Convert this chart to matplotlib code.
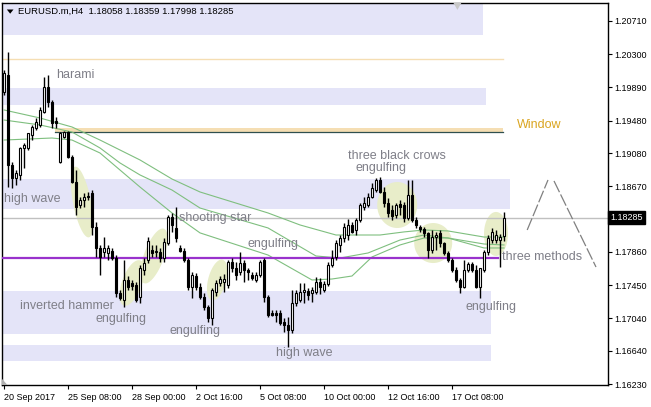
import numpy as np
import matplotlib.pyplot as plt
from matplotlib.patches import Polygon, Rectangle
from matplotlib.lines import Line2D
from matplotlib.transforms import blended_transform_factory

plt.rcParams['font.family'] = ['Liberation Sans', 'DejaVu Sans']

# H4 candles, bar index 0..125
opens = [1.19834, 1.20044, 1.18933, 1.18773, 1.18810, 1.19143, 1.19143, 1.19303, 1.19390, 1.19427,
         1.19587, 1.19895, 1.19710, 1.19476, 1.18970, 1.19278, 1.19340, 1.19032, 1.18723, 1.18439,
         1.18501, 1.18538, 1.18587, 1.18168, 1.17909, 1.17859, 1.17847, 1.17872, 1.17785, 1.17353,
         1.17267, 1.17514, 1.17477, 1.17452, 1.17304, 1.17637, 1.17761, 1.17884, 1.17859, 1.17859,
         1.17785, 1.17970, 1.18291, 1.18156, 1.17909, 1.17872, 1.17761, 1.17427, 1.17563, 1.17427,
         1.17304, 1.17181, 1.17045, 1.17366, 1.17477, 1.17489, 1.17452, 1.17736, 1.17662, 1.17612,
         1.17724, 1.17637, 1.17575, 1.17514, 1.17575, 1.17761, 1.17304, 1.17107, 1.17107, 1.17107,
         1.16996, 1.16959, 1.16897, 1.17230, 1.17267, 1.17366, 1.17378, 1.17353, 1.17366, 1.17489,
         1.17390, 1.17464, 1.17699, 1.17798, 1.17946, 1.18032, 1.18069, 1.18193, 1.18131, 1.18255,
         1.18415, 1.18439, 1.18538, 1.18624, 1.18748, 1.18600, 1.18464, 1.18378, 1.18316, 1.18452,
         1.18439, 1.18279, 1.18563, 1.18255, 1.18168, 1.18144, 1.18095, 1.17884, 1.18044, 1.18095,
         1.17970, 1.17847, 1.17761, 1.17637, 1.17514, 1.17427, 1.17637, 1.17712, 1.17637, 1.17427,
         1.17637, 1.17859, 1.18007, 1.18007, 1.18007, 1.18058]
highs = [1.20105, 1.20327, 1.18970, 1.18871, 1.19155, 1.19204, 1.19328, 1.19427, 1.19513, 1.19649,
         1.20019, 1.20044, 1.19735, 1.19525, 1.19340, 1.19353, 1.19353, 1.19056, 1.18871, 1.18538,
         1.18587, 1.18600, 1.18624, 1.18230, 1.17946, 1.18044, 1.17946, 1.17909, 1.17822, 1.17390,
         1.17761, 1.17563, 1.17514, 1.17489, 1.17699, 1.17785, 1.18044, 1.17946, 1.17946, 1.17909,
         1.18032, 1.18316, 1.18341, 1.18415, 1.17946, 1.17909, 1.17785, 1.17612, 1.17600, 1.17477,
         1.17353, 1.17205, 1.17415, 1.17514, 1.17563, 1.17588, 1.17761, 1.17785, 1.17736, 1.17859,
         1.17761, 1.17662, 1.17612, 1.17612, 1.17761, 1.17785, 1.17329, 1.17144, 1.17144, 1.17144,
         1.17045, 1.17057, 1.17390, 1.17390, 1.17477, 1.17477, 1.17415, 1.17427, 1.17551, 1.17539,
         1.17501, 1.17736, 1.17884, 1.18007, 1.18069, 1.18218, 1.18267, 1.18230, 1.18279, 1.18464,
         1.18538, 1.18587, 1.18711, 1.18773, 1.18785, 1.18661, 1.18526, 1.18439, 1.18464, 1.18501,
         1.18476, 1.18748, 1.18748, 1.18291, 1.18193, 1.18168, 1.18107, 1.18131, 1.18107, 1.18131,
         1.17983, 1.17872, 1.17785, 1.17674, 1.17539, 1.17761, 1.17736, 1.17736, 1.17699, 1.17662,
         1.17884, 1.18069, 1.18156, 1.18131, 1.18082, 1.18359]
lows = [1.19797, 1.18661, 1.18649, 1.18686, 1.18748, 1.18896, 1.19118, 1.19241, 1.19365, 1.19402,
        1.19575, 1.19649, 1.19390, 1.19390, 1.18958, 1.19266, 1.19019, 1.18711, 1.18316, 1.18402,
        1.18415, 1.18501, 1.18069, 1.17798, 1.17575, 1.17798, 1.17761, 1.17761, 1.17304, 1.17267,
        1.17181, 1.17390, 1.17390, 1.17242, 1.17230, 1.17575, 1.17724, 1.17798, 1.17798, 1.17736,
        1.17736, 1.17946, 1.18107, 1.17983, 1.17859, 1.17736, 1.17390, 1.17292, 1.17390, 1.17279,
        1.17144, 1.16996, 1.16959, 1.17316, 1.17440, 1.17366, 1.17415, 1.17612, 1.17514, 1.17575,
        1.17489, 1.17514, 1.17514, 1.17489, 1.17551, 1.17242, 1.17057, 1.17070, 1.16996, 1.16959,
        1.16872, 1.16687, 1.16860, 1.17193, 1.17242, 1.17230, 1.17267, 1.17242, 1.17341, 1.17341,
        1.17366, 1.17440, 1.17674, 1.17761, 1.17859, 1.17983, 1.18007, 1.18095, 1.18069, 1.18230,
        1.18378, 1.18415, 1.18526, 1.18600, 1.18587, 1.18415, 1.18291, 1.18255, 1.18279, 1.18316,
        1.18230, 1.18255, 1.18230, 1.18156, 1.18107, 1.18044, 1.17785, 1.17847, 1.17884, 1.17921,
        1.17822, 1.17736, 1.17612, 1.17489, 1.17353, 1.17415, 1.17612, 1.17612, 1.17415, 1.17292,
        1.17612, 1.17822, 1.17970, 1.17970, 1.17674, 1.17998]
closes = [1.20068, 1.18933, 1.18773, 1.18834, 1.19143, 1.19180, 1.19328, 1.19402, 1.19464, 1.19612,
          1.19895, 1.19710, 1.19451, 1.19451, 1.19328, 1.19340, 1.19032, 1.18723, 1.18415, 1.18501,
          1.18538, 1.18550, 1.18168, 1.17909, 1.17798, 1.17909, 1.17909, 1.17785, 1.17353, 1.17292,
          1.17514, 1.17427, 1.17440, 1.17267, 1.17662, 1.17724, 1.17995, 1.17847, 1.17872, 1.17785,
          1.17983, 1.18291, 1.18193, 1.18032, 1.17872, 1.17761, 1.17427, 1.17575, 1.17427, 1.17304,
          1.17181, 1.17045, 1.17390, 1.17477, 1.17526, 1.17526, 1.17736, 1.17662, 1.17575, 1.17724,
          1.17637, 1.17612, 1.17539, 1.17575, 1.17736, 1.17304, 1.17082, 1.17082, 1.17082, 1.16983,
          1.16959, 1.16897, 1.17230, 1.17353, 1.17366, 1.17390, 1.17329, 1.17390, 1.17489, 1.17427,
          1.17464, 1.17699, 1.17785, 1.17970, 1.18032, 1.18168, 1.18193, 1.18107, 1.18255, 1.18439,
          1.18464, 1.18538, 1.18649, 1.18748, 1.18600, 1.18464, 1.18341, 1.18304, 1.18439, 1.18415,
          1.18279, 1.18563, 1.18255, 1.18193, 1.18144, 1.18095, 1.17884, 1.18044, 1.18069, 1.17970,
          1.17847, 1.17761, 1.17637, 1.17514, 1.17427, 1.17637, 1.17712, 1.17637, 1.17427, 1.17662,
          1.17859, 1.18032, 1.18107, 1.18069, 1.18044, 1.18285]

# moving averages (bar index, price)
ma_slow_x = [0, 9, 17, 24, 34, 42, 49, 66, 74, 83, 94, 100, 105, 111, 120, 125]
ma_slow_y = [1.19612, 1.19513, 1.19402, 1.19241, 1.18995, 1.18760, 1.18600, 1.18341, 1.18193,
             1.18069, 1.18069, 1.18107, 1.18131, 1.18119, 1.18044, 1.18044]
ma_mid_x = [0, 9, 17, 24, 29, 34, 42, 49, 66, 78, 84, 91, 99, 105, 111, 120, 125]
ma_mid_y = [1.19488, 1.19427, 1.19340, 1.19143, 1.18958, 1.18810, 1.18624, 1.18402, 1.18156,
            1.17810, 1.17785, 1.17847, 1.18007, 1.18069, 1.18032, 1.17958, 1.17946]
ma_fast_x = [0, 12, 17, 24, 34, 42, 49, 66, 77, 82, 87, 92, 99, 105, 111, 120, 125]
ma_fast_y = [1.19241, 1.19266, 1.19241, 1.19081, 1.18661, 1.18341, 1.18095, 1.17822, 1.17514,
             1.17526, 1.17563, 1.17798, 1.17946, 1.18032, 1.18032, 1.17909, 1.17909]

# zones (x from, x to, price low, price high)
zones_x0 = [-0.5, -0.5, -0.5, -0.5, -0.5]
zones_x1 = [119.8, 120.5, 126.5, 121.7, 121.7]
zones_lo = [1.20537, 1.19673, 1.18390, 1.16847, 1.16514]
zones_hi = [1.20940, 1.19883, 1.18760, 1.17378, 1.16712]

window_lo, window_hi = 1.19340, 1.19389
level_top = 1.20241
level_purple = 1.17785
last_price = 1.18285

# pattern highlights: centre (bar, price), size in px, tilt
spot_x = [19.5, 37.5, 32.0, 53.3, 98.3, 107.3, 123.0]
spot_y = [1.18476, 1.17810, 1.17477, 1.17514, 1.18439, 1.17970, 1.18082]
spot_w = [18, 20, 20, 18, 40, 38, 24]
spot_h = [72, 58, 48, 42, 46, 40, 44]
spot_a = [11, -20, -20, -15, 0, 0, 0]

labels = ['harami', 'high wave', 'shooting star', 'engulfing', 'inverted hammer', 'engulfing',
          'engulfing', 'high wave', 'three black crows', 'engulfing', 'three methods', 'engulfing']
label_x = [13.0, 0.0, 43.8, 60.8, 4.0, 22.8, 41.5, 68.0, 86.0, 87.8, 124.5, 115.5]
label_y = [1.20044, 1.18513, 1.18279, 1.17958, 1.17193, 1.17033, 1.16884, 1.16612, 1.19044,
           1.18896, 1.17798, 1.17181]

# projected path
proj1_x, proj1_y = [130.8, 136.0], [1.18131, 1.18748]
proj2_x, proj2_y = [137.5, 148.0], [1.18736, 1.17674]

yticks = [1.20710, 1.20300, 1.19890, 1.19480, 1.19080, 1.18670, 1.17860, 1.17450, 1.17040,
          1.16640, 1.16230]
xtick_pos = [0, 16, 32, 48, 64, 80, 96, 112]
xtick_lab = ['20 Sep 2017', '25 Sep 08:00', '28 Sep 00:00', '2 Oct 16:00', '5 Oct 08:00',
             '10 Oct 00:00', '12 Oct 16:00', '17 Oct 08:00']

fig = plt.figure(figsize=(6.51, 4.07), dpi=100)
ax = fig.add_axes([2 / 651, 22 / 407, 606 / 651, 382 / 407])
ax.set_xlim(-0.5, 151)
ax.set_ylim(1.16218, 1.20932)

for x0, x1, lo, hi in zip(zones_x0, zones_x1, zones_lo, zones_hi):
    ax.add_patch(Rectangle((x0, lo), x1 - x0, hi - lo, fc='#e4e4f8', ec='none', zorder=1))

ax.add_patch(Rectangle((12.8, window_lo), 112, window_hi - window_lo, fc='#f5deb3', ec='none', zorder=1))
ax.plot([12.8, 124.8], [window_lo, window_lo], color='#2f4f4f', lw=0.9, zorder=1.5)
ax.plot([-0.5, 124.8], [level_top, level_top], color='#f5deb3', lw=1, zorder=1.5)

# highlight ellipses built in pixel space
fig.canvas.draw()
t = np.linspace(0, 2 * np.pi, 80)
for cx, cy, w, h, a in zip(spot_x, spot_y, spot_w, spot_h, spot_a):
    c = ax.transData.transform((cx, cy))
    r = np.deg2rad(a)
    ex = w / 2 * np.cos(t)
    ey = h / 2 * np.sin(t)
    px = c[0] + ex * np.cos(r) - ey * np.sin(r)
    py = c[1] + ex * np.sin(r) + ey * np.cos(r)
    pts = ax.transData.inverted().transform(np.column_stack([px, py]))
    ax.add_patch(Polygon(pts, closed=True, fc='#e8edc9', ec='none', zorder=2))

ax.axhline(last_price, color='#c0c0c0', lw=1, zorder=2.5)

ma_col = '#7fbf7f'
ax.plot(ma_slow_x, ma_slow_y, color=ma_col, lw=0.8, zorder=3)
ax.plot(ma_mid_x, ma_mid_y, color=ma_col, lw=0.8, zorder=3)
ax.plot(ma_fast_x, ma_fast_y, color=ma_col, lw=0.8, zorder=3)

ax.plot([-0.5, 123.5], [level_purple, level_purple], color='#9932cc', lw=1.6, zorder=3.5)

# candles
idx = np.arange(len(opens))
o = np.array(opens)
c = np.array(closes)
ax.vlines(idx, lows, highs, color='black', lw=1, zorder=4)
up = c >= o
bot = np.minimum(o, c)
hgt = np.maximum(np.abs(c - o), 0.00004)
ax.bar(idx[up], hgt[up], bottom=bot[up], width=0.6, color='white', edgecolor='black', lw=0.8, zorder=5)
ax.bar(idx[~up], hgt[~up], bottom=bot[~up], width=0.6, color='black', edgecolor='black', lw=0.8, zorder=5)

for s, x, y in zip(labels, label_x, label_y):
    ax.text(x, y, s, color='#7f7f88', fontsize=9, va='center', ha='left', zorder=6)
ax.text(128.2, 1.19427, 'Window', color='#daa520', fontsize=9, va='center', ha='left', zorder=6)

ax.plot(proj1_x, proj1_y, color='#808080', lw=0.9, ls=(0, (10, 2)), zorder=6)
ax.plot(proj2_x, proj2_y, color='#808080', lw=0.9, ls=(0, (10, 2)), zorder=6)

# axes styling
for sp in ax.spines.values():
    sp.set_color('black')
    sp.set_linewidth(1)
ax.yaxis.tick_right()
ax.set_yticks(yticks)
ax.set_yticklabels(['%.5f' % v for v in yticks])
ax.set_xticks(xtick_pos)
ax.set_xticklabels(xtick_lab, ha='left')
ax.tick_params(axis='both', length=3, width=0.8, labelsize=6.5, colors='black', pad=1.5)
ax.tick_params(axis='x', pad=3)

tr = blended_transform_factory(ax.transAxes, ax.transData)
ax.text(1.004, last_price, '%.5f' % last_price, transform=tr, color='white', fontsize=6.5,
        va='center', ha='left', zorder=10,
        bbox=dict(boxstyle='square,pad=0.25', fc='black', ec='black'))

ax.text(0.027, 0.978, 'EURUSD.m,H4  1.18058 1.18359 1.17998 1.18285', transform=ax.transAxes,
        fontsize=6.8, va='center', ha='left', color='black', zorder=10)
ax.add_patch(Polygon([[0.008, 0.983], [0.019, 0.983], [0.0135, 0.972]], closed=True,
                     transform=ax.transAxes, fc='black', ec='none', zorder=10))
ax.add_patch(Polygon([[0.745, 1.0], [0.758, 1.0], [0.7515, 0.982]], closed=True,
                     transform=ax.transAxes, fc='#c8c8c8', ec='none', zorder=10))
ax.add_patch(Polygon([[0.0, 0.0], [0.009, 0.0], [0.0, 0.016]], closed=True,
                     transform=ax.transAxes, fc='#b0b0b0', ec='none', zorder=10))

fig.savefig('out.png', dpi=100)
